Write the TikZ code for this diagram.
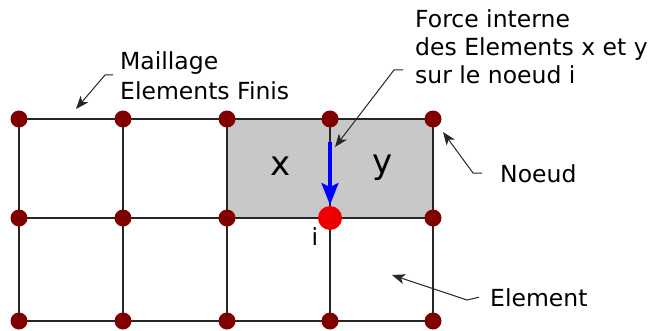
\documentclass[tikz,border=0pt]{standalone}
\usepackage{fontspec}
\setmainfont{DejaVu Sans}
\usetikzlibrary{arrows.meta}
\definecolor{nodered}{HTML}{800000}
\definecolor{hotred}{HTML}{EE0000}
\definecolor{cellgray}{HTML}{C8C8C8}
\definecolor{gridline}{HTML}{262626}
\tikzset{
  meshnode/.style={circle,fill=nodered,inner sep=0pt,minimum size=17pt},
  inode/.style={circle,fill=hotred,inner sep=0pt,minimum size=24pt},
  gridl/.style={draw=gridline,line width=1.8pt},
  leader/.style={draw=gridline,line width=1pt,-{Stealth[length=13pt,width=10pt,inset=3.5pt]}},
  lbl/.style={inner sep=0pt,font=\fontsize{23.5}{28}\selectfont},
  big/.style={inner sep=0pt,font=\fontsize{34}{40}\selectfont},
  force/.style={draw=blue,line width=3.3pt,-{Stealth[length=22pt,width=17pt,inset=4pt]}}
}
\begin{document}
\begin{tikzpicture}[x=1pt,y=-1pt]
\useasboundingbox (0,0) rectangle (652,331);
% grid coordinates
\foreach \c/\x in {1/19,2/123,3/227,4/330,5/433}{
  \foreach \r/\y in {1/119,2/218,3/321}{
    \coordinate (p\c\r) at (\x,\y);
  }
}
\fill[cellgray] (p31) rectangle (p52);
\foreach \r in {1,2,3}{\draw[gridl] (p1\r) -- (p5\r);}
\foreach \c in {1,2,3,4,5}{\draw[gridl] (p\c1) -- (p\c3);}
\foreach \c in {1,2,3,4,5}{
  \foreach \r in {1,2,3}{
    \ifnum\c=4 \ifnum\r=2 \else \node[meshnode] (n\c\r) at (p\c\r) {};\fi
    \else \node[meshnode] (n\c\r) at (p\c\r) {};\fi
  }
}
\node[inode] (ni) at (p42) {};
% element labels
\node[big] (lx) at (281,166) {x};
\node[big] (ly) at (383,168) {y};
\node[lbl,anchor=base] (li) at (315,245) {i};
% force arrow
\coordinate (fs) at (330,142);
\draw[force] (fs) -- (330,205);
% texts
\node[lbl,anchor=north west,align=left,font=\fontsize{23.5}{30}\selectfont] (tmail) at (120,51) {Maillage\\Elements Finis};
\node[lbl,anchor=north west,align=left] (tforce) at (415,9) {Force interne\\des Elements x et y\\sur le noeud i};
\node[lbl,anchor=base west] (tnoeud) at (500,182) {Noeud};
\node[lbl,anchor=base west] (telem) at (490,306) {Element};
% leaders
\coordinate (am) at (105,75); \coordinate (tm) at (76,109);
\draw[leader] ([xshift=-7pt]tmail.west |- am) -- (am) -- (tm);
\coordinate (af) at (394,70); \coordinate (tf) at (335,147);
\draw[leader] (403,70) -- (af) -- (tf);
\coordinate (an) at (473,173); \coordinate (tn) at (443,132);
\draw[leader] ([xshift=-18pt]tnoeud.west) -- (an) -- (tn);
\coordinate (ae) at (467,300); \coordinate (te) at (392,275);
\draw[leader] ([xshift=-11pt]telem.west) -- (ae) -- (te);
\end{tikzpicture}
\end{document}
